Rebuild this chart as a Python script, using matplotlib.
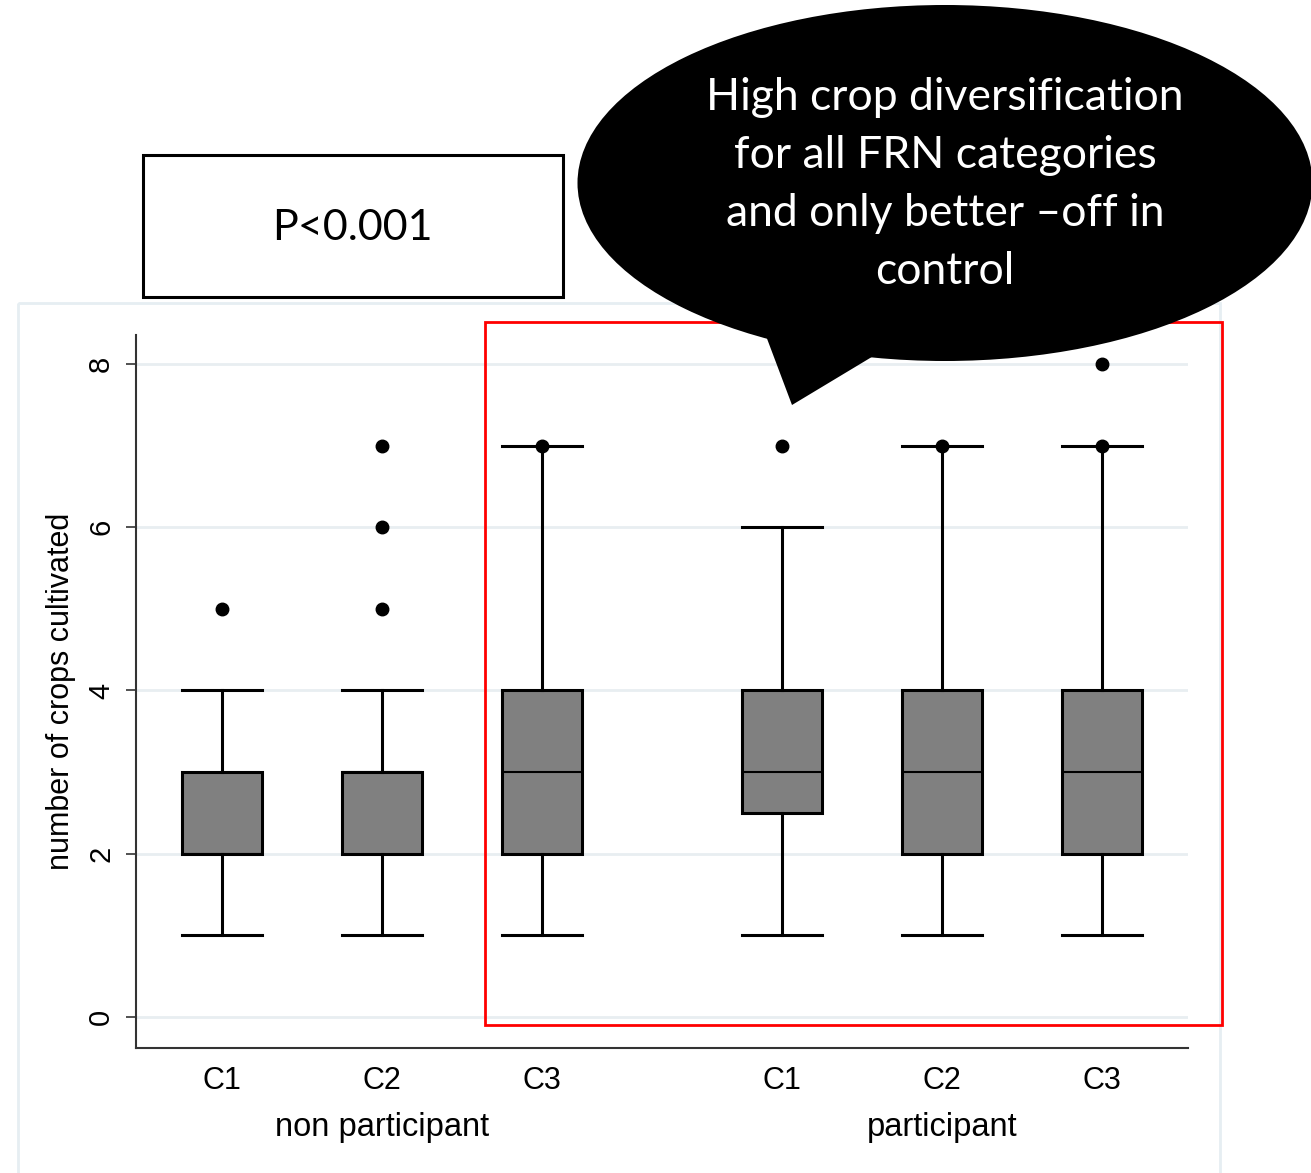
import matplotlib
matplotlib.use("Agg")
import matplotlib.pyplot as plt
from matplotlib.patches import Rectangle, Ellipse, Polygon

# data
categories = ["C1", "C2", "C3", "C1", "C2", "C3"]
groups = ["non participant", "participant"]
positions = [1, 2, 3, 4.5, 5.5, 6.5]
whislo = [1, 1, 1, 1, 1, 1]
q1 = [2, 2, 2, 2.5, 2, 2]
medians = [2, 3, 3, 3, 3, 3]
q3 = [3, 3, 4, 4, 4, 4]
whishi = [4, 4, 7, 6, 7, 7]
fliers = [[5], [5, 6, 7], [7], [7], [7], [7, 8]]
yticks = [0, 2, 4, 6, 8]

W, H = 1311, 1173
plt.rcParams["font.family"] = ["Liberation Sans", "DejaVu Sans"]
fig = plt.figure(figsize=(W / 100, H / 100), dpi=100)

# main axes (pixel box: x 136..1188, y 335..1048)
ax = fig.add_axes([136 / W, 1 - 1048 / H, (1188 - 136) / W, (1048 - 335) / H])

stats = []
for i in range(len(categories)):
    stats.append(dict(med=medians[i], q1=q1[i], q3=q3[i], whislo=whislo[i],
                      whishi=whishi[i], fliers=fliers[i], label=categories[i]))

ax.bxp(stats, positions=positions, widths=0.5, capwidths=0.5, patch_artist=True,
       boxprops=dict(facecolor="#808080", edgecolor="black", linewidth=2.2),
       medianprops=dict(color="black", linewidth=1.5),
       whiskerprops=dict(color="black", linewidth=2.2),
       capprops=dict(color="black", linewidth=2.2),
       flierprops=dict(marker="o", markerfacecolor="black", markeredgecolor="black",
                       markersize=9))

ax.set_xlim(0.4625, 7.0375)
ax.set_ylim(-0.38, 8.355)
ax.set_yticks(yticks)
ax.set_yticklabels([str(v) for v in yticks], rotation=90, va="center", fontsize=21)
ax.tick_params(axis="y", length=7, width=1.2, pad=8, color="#333333")
ax.tick_params(axis="x", length=0, pad=13, labelsize=22)
ax.yaxis.grid(True, color="#e8eef1", linewidth=2)
ax.set_axisbelow(True)
for s in ["top", "right"]:
    ax.spines[s].set_visible(False)
for s in ["left", "bottom"]:
    ax.spines[s].set_color("#333333")
    ax.spines[s].set_linewidth(1.5)
ax.set_ylabel("number of crops cultivated", fontsize=22, labelpad=8)

ax.text(2, -0.112, groups[0], transform=ax.get_xaxis_transform(), ha="center",
        va="center", fontsize=23.5)
ax.text(5.5, -0.112, groups[1], transform=ax.get_xaxis_transform(), ha="center",
        va="center", fontsize=23.5)

# overlay in pixel coordinates for the annotations
ov = fig.add_axes([0, 0, 1, 1], zorder=10)
ov.set_xlim(0, W)
ov.set_ylim(H, 0)
ov.axis("off")
ov.patch.set_alpha(0)

ov.add_patch(Rectangle((18, 303), 1202, 880, fill=False, edgecolor="#e6eef2", linewidth=2))
ov.add_patch(Rectangle((485, 322), 737, 703, fill=False, edgecolor="#ff0000", linewidth=2))
ov.add_patch(Rectangle((143, 155), 420, 142, fill=False, edgecolor="black", linewidth=2.2))
ov.text(352, 228, "P<0.001", ha="center", va="center", fontsize=31, family=["Lato", "DejaVu Sans"])

ov.add_patch(Ellipse((945, 183), 735, 356, facecolor="black", edgecolor="none"))
ov.add_patch(Polygon([(760, 320), (792, 405), (900, 340)], closed=True,
                     facecolor="black", edgecolor="none"))
callout = ["High crop diversification", "for all FRN categories",
           "and only better \u2013off in", "control"]
for k, line in enumerate(callout):
    ov.text(945, 97 + 58 * k, line, ha="center", va="center", color="white",
            fontsize=32, family=["Lato", "DejaVu Sans"])

fig.savefig("out.png", dpi=100)
